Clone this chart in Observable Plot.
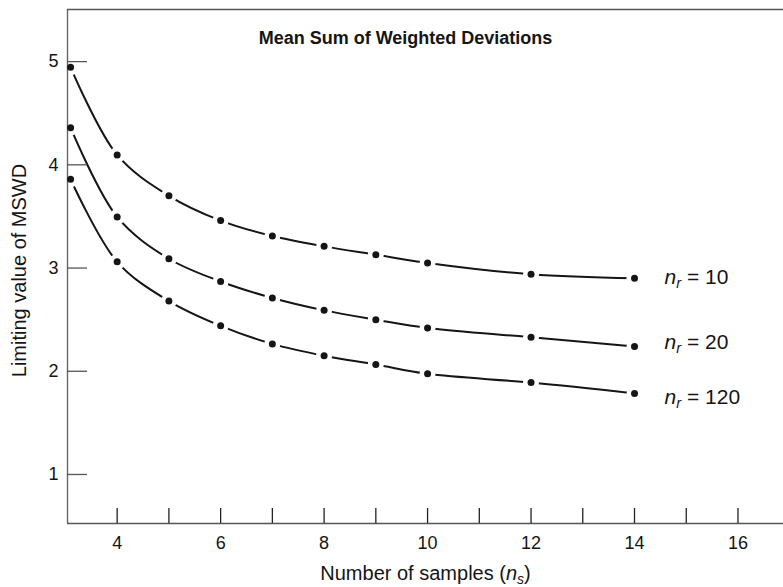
<!DOCTYPE html>
<html><head><meta charset="utf-8">
<script src="https://cdn.jsdelivr.net/npm/d3@7"></script>
<script src="https://cdn.jsdelivr.net/npm/@observablehq/plot@0.6"></script>
<style>
body{margin:0;background:#fff}
svg text{font-family:"Liberation Sans",Arial,Helvetica,sans-serif}
</style></head><body><div id="chart"></div>
<script>
// ---- data ----
const samples = [3.1, 4, 5, 6, 7, 8, 9, 10, 12, 14];
const mswd_nr10 = [4.945, 4.096, 3.70, 3.46, 3.31, 3.21, 3.13, 3.05, 2.94, 2.90];
const mswd_nr20 = [4.36, 3.495, 3.09, 2.87, 2.71, 2.59, 2.50, 2.42, 2.33, 2.24];
const mswd_nr120 = [3.86, 3.06, 2.68, 2.44, 2.265, 2.15, 2.065, 1.975, 1.89, 1.785];
const seriesNames = ["n_r = 10", "n_r = 20", "n_r = 120"];
const xTicks = [4, 5, 6, 7, 8, 9, 10, 11, 12, 13, 14, 15, 16];
const xTickLabels = [4, 6, 8, 10, 12, 14, 16];
const yTicks = [1, 2, 3, 4, 5];
const xDomain = [3.04, 16.88];
const yDomain = [0.525, 5.505];
const title = "Mean Sum of Weighted Deviations";
const xLabel = "Number of samples (n_s)";
const yLabel = "Limiting value of MSWD";

// ---- build tables ----
const series = [mswd_nr10, mswd_nr20, mswd_nr120];
const rows = series.flatMap((vals, k) => vals.map((v, i) => ({ns: samples[i], mswd: v, series: seriesNames[k]})));
const lastRows = series.map((vals, k) => ({ns: samples[samples.length - 1], mswd: vals[vals.length - 1], series: seriesNames[k]}));
const labelDy = [-1, -4, 4];
const ink = "#151515";

const plot = Plot.plot({
  width: 783, height: 587,
  marginLeft: 67, marginRight: 0, marginTop: 9, marginBottom: 64,
  x: {domain: xDomain},
  y: {domain: yDomain},
  style: {fontFamily: '"Liberation Sans", Arial, sans-serif', fontSize: "18px", color: ink, background: "#fff", overflow: "visible"},
  marks: [
    Plot.line(rows, {x: "ns", y: "mswd", z: "series", curve: "catmull-rom", stroke: ink, strokeWidth: 2}),
    Plot.dot(rows, {x: "ns", y: "mswd", r: 8, fill: "white", stroke: null}),
    Plot.ruleX([xDomain[0]], {stroke: "#666", strokeWidth: 1.4}),
    Plot.ruleY([yDomain[0], yDomain[1]], {stroke: "#555", strokeWidth: 1.4}),
    Plot.axisY(yTicks, {tickSize: -20, tickFormat: () => "", label: null, stroke: "#555", strokeWidth: 1.3}),
    Plot.axisY(yTicks, {tickSize: 0, tickPadding: 9, tickFormat: d3.format("d"), label: null, fontSize: 18}),
    Plot.axisX(xTicks, {tickSize: -15, tickFormat: () => "", label: null, stroke: "#222", strokeWidth: 1.3}),
    Plot.axisX(xTickLabels, {tickSize: 0, tickPadding: 13, tickFormat: d3.format("d"), label: null, fontSize: 18}),
    Plot.dot(rows, {x: "ns", y: "mswd", r: 3.5, fill: ink, stroke: null}),
    ...lastRows.map((d, k) => Plot.text([d], {x: "ns", y: "mswd", text: (r) => r.series, dx: 30, dy: labelDy[k], textAnchor: "start", lineAnchor: "middle", fontSize: 21, fill: ink})),
    Plot.text([title], {frameAnchor: "top", textAnchor: "middle", lineAnchor: "middle", dx: -20, dy: 29, fontWeight: "bold", fontSize: 18, letterSpacing: "0.45px", fill: ink}),
    Plot.text([yLabel], {frameAnchor: "left", textAnchor: "middle", lineAnchor: "middle", rotate: -90, dx: -48, dy: 4, fontSize: 20, letterSpacing: "0.3px", fill: ink}),
    Plot.text([xLabel], {frameAnchor: "bottom", textAnchor: "middle", lineAnchor: "middle", dy: 50, fontSize: 20, letterSpacing: "1px", fill: ink})
  ]
});

// italic n with subscript
d3.select(plot).selectAll("text").each(function () {
  const t = this.textContent;
  const m = t.match(/^(.*?)n_(\w)(.*)$/);
  if (!m) return;
  const sel = d3.select(this);
  sel.text(null);
  if (m[1]) sel.append("tspan").text(m[1]);
  sel.append("tspan").attr("font-style", "italic").text("n");
  sel.append("tspan").attr("font-style", "italic").attr("font-size", "0.7em").attr("dy", "0.28em").text(m[2]);
  sel.append("tspan").attr("dy", "-0.196em").text(m[3]);
});

document.getElementById("chart").appendChild(plot);
</script></body></html>
